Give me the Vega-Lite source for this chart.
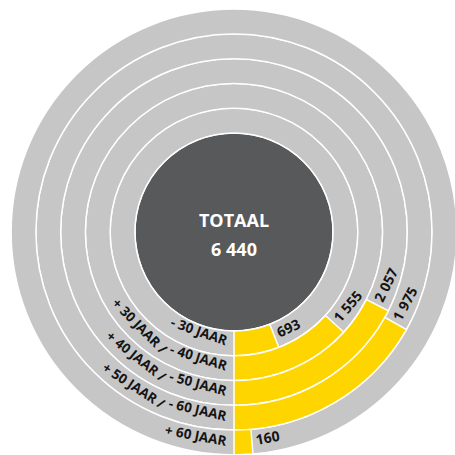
{
  "$schema": "https://vega.github.io/schema/vega-lite/v6.json",
  "width": 450,
  "height": 450,
  "padding": {"left": 8, "top": 6, "right": 0, "bottom": 0},
  "background": "white",
  "config": {
    "view": {"stroke": null},
    "locale": {"number": {"decimal": ",", "thousands": " ", "grouping": [3], "currency": ["€", ""]}},
    "text": {"font": "Open Sans"}
  },
  "datasets": {
    "ages": [
      {"group": "- 30 JAAR", "value": 693},
      {"group": "+ 30 JAAR / - 40 JAAR", "value": 1555},
      {"group": "+ 40 JAAR / - 50 JAAR", "value": 2057},
      {"group": "+ 50 JAAR / - 60 JAAR", "value": 1975},
      {"group": "+ 60 JAAR", "value": 160}
    ],
    "chunks": [
      {"group": "- 30 JAAR", "piece": 1, "part": "- 30 JAAR"},
      {"group": "+ 30 JAAR / - 40 JAAR", "piece": 1, "part": "- 40 JAAR"},
      {"group": "+ 30 JAAR / - 40 JAAR", "piece": 2, "part": "+ 30 JAAR /"},
      {"group": "+ 40 JAAR / - 50 JAAR", "piece": 1, "part": "- 50 JAAR"},
      {"group": "+ 40 JAAR / - 50 JAAR", "piece": 2, "part": "+ 40 JAAR /"},
      {"group": "+ 50 JAAR / - 60 JAAR", "piece": 1, "part": "- 60 JAAR"},
      {"group": "+ 50 JAAR / - 60 JAAR", "piece": 2, "part": "+ 50 JAAR /"},
      {"group": "+ 60 JAAR", "piece": 1, "part": "+ 60 JAAR"}
    ]
  },
  "data": {"name": "ages"},
  "resolve": {"scale": {"angle": "independent"}},
  "layer": [
    {
      "data": {"values": [{}]},
      "mark": {"type": "arc", "innerRadius": 0, "outerRadius": 99, "theta": 0, "theta2": 6.2832, "fill": "#58595b", "stroke": "white", "strokeWidth": 1.5},
      "encoding": {}
    },
    {
      "mark": {"type": "arc", "theta": 0, "theta2": 6.2832, "fill": "#c6c6c6", "stroke": "white", "strokeWidth": 1.5, "radiusOffset": 12.4, "radius2Offset": -12.4},
      "encoding": {
        "radius": {"field": "group", "type": "ordinal", "sort": null, "scale": {"type": "point", "domain": ["- 30 JAAR", "+ 30 JAAR / - 40 JAAR", "+ 40 JAAR / - 50 JAAR", "+ 50 JAAR / - 60 JAAR", "+ 60 JAAR"], "range": [111.5, 210.5], "padding": 0}},
        "radius2": {"field": "group"}
      }
    },
    {
      "mark": {"type": "arc", "fill": "#ffd500", "stroke": "white", "strokeWidth": 1.5, "radiusOffset": 12.4, "radius2Offset": -12.4},
      "encoding": {
        "theta": {"field": "value", "type": "quantitative", "stack": null, "scale": {"domain": [0, 2057], "range": [3.14159, 2.04204]}},
        "theta2": {"datum": 0},
        "radius": {"field": "group", "type": "ordinal", "sort": null},
        "radius2": {"field": "group"}
      }
    },
    {
      "mark": {"type": "text", "align": "left", "baseline": "middle", "dx": 4, "fontSize": 14, "fontWeight": "bold", "fill": "#141414"},
      "encoding": {
        "theta": {"field": "value", "type": "quantitative", "stack": null},
        "radius": {"field": "group", "type": "ordinal", "sort": null},
        "text": {"field": "value", "type": "quantitative", "format": ",d"},
        "angle": {"field": "value", "type": "quantitative", "scale": {"domain": [0, 2057], "range": [354, 296]}}
      }
    },
    {
      "data": {"name": "chunks"},
      "transform": [{"filter": "datum.piece == 1"}],
      "mark": {"type": "text", "align": "right", "baseline": "middle", "dx": -8, "radiusOffset": 1, "fontSize": 13.5, "fontWeight": "bold", "fill": "#141414"},
      "encoding": {
        "theta": {"datum": 0},
        "radius": {"field": "group", "type": "ordinal", "sort": null},
        "text": {"field": "part"},
        "angle": {"field": "group", "type": "ordinal", "sort": null, "scale": {"type": "point", "domain": ["- 30 JAAR", "+ 30 JAAR / - 40 JAAR", "+ 40 JAAR / - 50 JAAR", "+ 50 JAAR / - 60 JAAR", "+ 60 JAAR"], "range": [19.5, 10.6], "padding": 0}}
      }
    },
    {
      "data": {"name": "chunks"},
      "transform": [{"filter": "datum.piece == 2 && datum.group == '+ 30 JAAR / - 40 JAAR'"}],
      "mark": {"type": "text", "align": "right", "baseline": "middle", "thetaOffset": 0.528, "radiusOffset": 2.5, "angle": 45.4, "fontSize": 13.5, "fontWeight": "bold", "fill": "#141414"},
      "encoding": {
        "theta": {"datum": 0},
        "radius": {"field": "group", "type": "ordinal", "sort": null},
        "text": {"field": "part"}
      }
    },
    {
      "data": {"name": "chunks"},
      "transform": [{"filter": "datum.piece == 2 && datum.group == '+ 40 JAAR / - 50 JAAR'"}],
      "mark": {"type": "text", "align": "right", "baseline": "middle", "thetaOffset": 0.447, "radiusOffset": 2, "angle": 38.4, "fontSize": 13.5, "fontWeight": "bold", "fill": "#141414"},
      "encoding": {
        "theta": {"datum": 0},
        "radius": {"field": "group", "type": "ordinal", "sort": null},
        "text": {"field": "part"}
      }
    },
    {
      "data": {"name": "chunks"},
      "transform": [{"filter": "datum.piece == 2 && datum.group == '+ 50 JAAR / - 60 JAAR'"}],
      "mark": {"type": "text", "align": "right", "baseline": "middle", "thetaOffset": 0.388, "radiusOffset": 2, "angle": 33.3, "fontSize": 13.5, "fontWeight": "bold", "fill": "#141414"},
      "encoding": {
        "theta": {"datum": 0},
        "radius": {"field": "group", "type": "ordinal", "sort": null},
        "text": {"field": "part"}
      }
    },
    {
      "data": {"values": [{}]},
      "mark": {"type": "text", "text": "TOTAAL", "dy": -10, "align": "center", "baseline": "middle", "fontSize": 18, "fontWeight": "bold", "fill": "white"},
      "encoding": {}
    },
    {
      "transform": [{"aggregate": [{"op": "sum", "field": "value", "as": "total"}]}],
      "mark": {"type": "text", "dy": 19, "align": "center", "baseline": "middle", "fontSize": 18, "fontWeight": "bold", "fill": "white"},
      "encoding": {"text": {"field": "total", "type": "quantitative", "format": ",d"}}
    }
  ]
}
